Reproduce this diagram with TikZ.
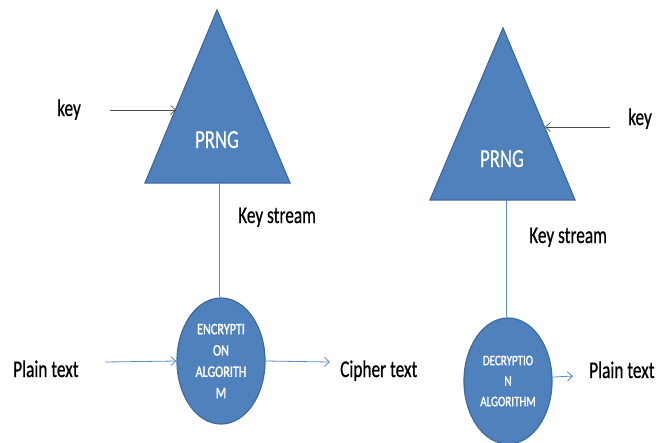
\documentclass[tikz,border=0pt]{standalone}
\usepackage{fontspec}
\setmainfont{Carlito}
\newfontfamily\lblfont[FakeStretch=0.72,FakeBold=0.6]{Carlito}
\newfontfamily\prngfont[FakeStretch=0.72,FakeBold=0.4]{Carlito}
\newfontfamily\inbold[FakeStretch=0.76,FakeBold=1.5]{Carlito}
\newcommand\encfnt{\inbold\fontsize{16}{21.3}\selectfont}
\newcommand\decfnt{\inbold\fontsize{14.5}{20.5}\selectfont}
\usetikzlibrary{arrows.meta,shapes.geometric}
\definecolor{ofblue}{HTML}{4F81BD}
\definecolor{ofborder}{HTML}{3E6A9E}
\definecolor{lnblue}{HTML}{5B8CC8}
\definecolor{keygray}{HTML}{4A4A4A}
\begin{document}
\begin{tikzpicture}[x=1pt,y=-1pt,
  tri/.style={fill=ofblue,draw=ofborder,line width=1.2pt,line join=miter},
  algo/.style={ellipse,fill=ofblue,draw=ofborder,line width=1.2pt,inner sep=0pt,
    minimum width=88pt,minimum height=126pt,text=white,align=center},
  prng/.style={text=white,anchor=base,font=\prngfont\fontsize{26}{26}\selectfont,inner sep=0pt},
  lbl/.style={anchor=base west,inner sep=0pt,font=\lblfont\fontsize{24}{24}\selectfont,text=black},
  keyarrow/.style={draw=keygray,line width=0.6pt,-{Straight Barb[length=5pt,width=9pt]}},
  bluearrow/.style={draw=lnblue,line width=0.8pt,-{Straight Barb[length=5pt,width=9pt]}},
  blueline/.style={draw=lnblue,line width=0.8pt}
]
\useasboundingbox (0,0) rectangle (660,442);

% left PRNG triangle
\coordinate (triLtop) at (217,10);
\coordinate (triLr) at (290,183);
\coordinate (triLl) at (145,183);
\path[tri] (triLtop) -- (triLr) -- (triLl) -- cycle;
\node[prng] (prngL) at (217,148) {PRNG};
\coordinate (keyLtip) at (176,110);
\coordinate (baseL) at (219,183);

% right PRNG triangle
\coordinate (triRtop) at (503,28);
\coordinate (triRr) at (575,200);
\coordinate (triRl) at (430,200);
\path[tri] (triRtop) -- (triRr) -- (triRl) -- cycle;
\node[prng] (prngR) at (502,167) {PRNG};
\coordinate (keyRtip) at (545,127);
\coordinate (baseR) at (506,200);

% algorithm ellipses
\node[algo,font=\encfnt] (enc) at (221,361)
  {\encfnt ENCRYPTI\\\encfnt ON\\\encfnt ALGORITH\\\encfnt M};
\node[algo,font=\decfnt] (dec) at (508,381)
  {\decfnt DECRYPTIO\\\decfnt N\\\decfnt ALGORITHM};

% labels
\node[lbl] (keyL) at (57,116) {key};
\node[lbl] (ksL) at (238,223) {Key stream};
\node[lbl] (ptL) at (13,377) {Plain text};
\node[lbl] (ct) at (340,377) {Cipher text};
\node[lbl] (keyR) at (628,125) {key};
\node[lbl] (ksR) at (529,243) {Key stream};
\node[lbl] (ptR) at (589,378) {Plain text};

% connectors
\draw[keyarrow] (110,110) coordinate (keyLstart) -- (keyLtip);
\draw[keyarrow] (610,127) coordinate (keyRstart) -- (keyRtip);
\draw[blueline] (baseL) -- (baseL |- enc.north);
\draw[blueline] (baseR) -- (baseR |- dec.north);
\draw[bluearrow] (105,362) coordinate (ptLstart) -- (enc.west);
\draw[bluearrow] (enc.east) -- (330,362) coordinate (ctend);
\draw[bluearrow] (dec.5) -- (573,376) coordinate (ptRend);
\end{tikzpicture}
\end{document}
